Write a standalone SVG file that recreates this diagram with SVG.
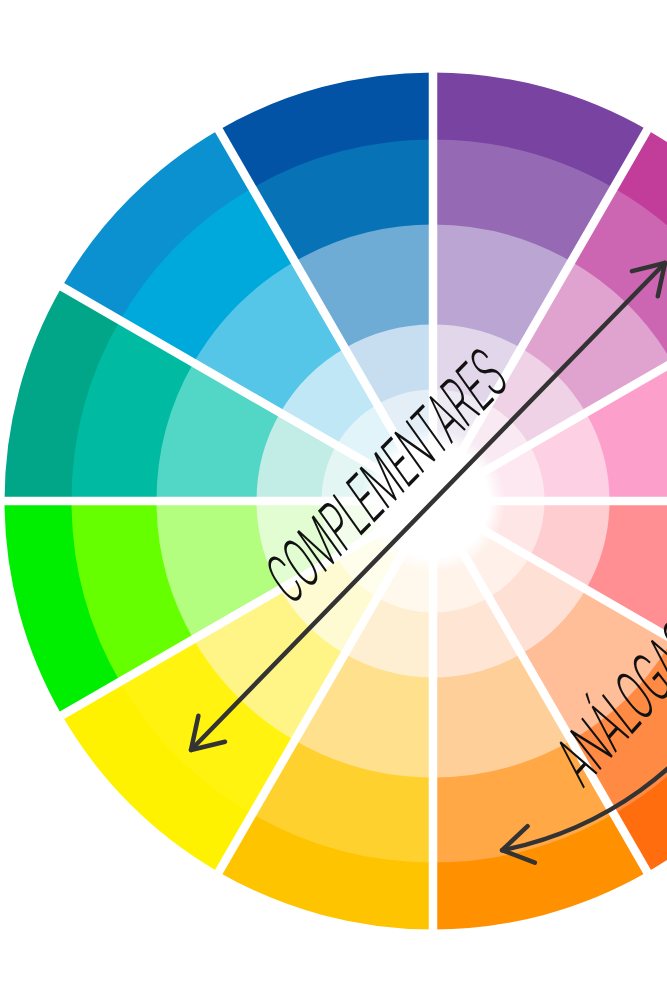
<svg xmlns="http://www.w3.org/2000/svg" width="667" height="1000" viewBox="0 0 667 1000">
<defs>
<style>
.s{fill:none;stroke-dasharray:30 330}
.a{stroke-width:68}.b{stroke-width:86}.c{stroke-width:101}.d{stroke-width:66}.e{stroke-width:112}
.sep{stroke:#fff;stroke-width:8.5;fill:none}
.arr{stroke:#333;stroke-width:4.5;fill:none;stroke-linecap:round;stroke-linejoin:round}
.lbl{font-family:Roboto,"Liberation Sans",sans-serif;font-weight:300;font-size:68px;fill:#111}
</style>
<radialGradient id="glow">
<stop offset="0.78" stop-color="#fff"/>
<stop offset="1" stop-color="#fff" stop-opacity="0"/>
</radialGradient>
</defs>
<rect width="667" height="1000" fill="#fff"/>
<g id="wheel">
<g id="seg-pink" transform="rotate(-30 433 501)">
<circle class="s a" cx="433" cy="501" r="394.5" pathLength="360" stroke="#ec5fa6"/>
<circle class="s b" cx="433" cy="501" r="318.5" pathLength="360" stroke="#f57fba"/>
<circle class="s c" cx="433" cy="501" r="226" pathLength="360" stroke="#fd9fcb"/>
<circle class="s d" cx="433" cy="501" r="143.5" pathLength="360" stroke="#fdd0e4"/>
<circle class="s e" cx="433" cy="501" r="55.5" pathLength="360" stroke="#fde8f1"/>
</g>
<g id="seg-magenta" transform="rotate(-60 433 501)">
<circle class="s a" cx="433" cy="501" r="394.5" pathLength="360" stroke="#c13d99"/>
<circle class="s b" cx="433" cy="501" r="318.5" pathLength="360" stroke="#cc66b2"/>
<circle class="s c" cx="433" cy="501" r="226" pathLength="360" stroke="#e0a3cf"/>
<circle class="s d" cx="433" cy="501" r="143.5" pathLength="360" stroke="#f0d2e6"/>
<circle class="s e" cx="433" cy="501" r="55.5" pathLength="360" stroke="#f8e9f2"/>
</g>
<g id="seg-purple" transform="rotate(-90 433 501)">
<circle class="s a" cx="433" cy="501" r="394.5" pathLength="360" stroke="#7843a1"/>
<circle class="s b" cx="433" cy="501" r="318.5" pathLength="360" stroke="#9569b3"/>
<circle class="s c" cx="433" cy="501" r="226" pathLength="360" stroke="#bba5d2"/>
<circle class="s d" cx="433" cy="501" r="143.5" pathLength="360" stroke="#e1d6ea"/>
<circle class="s e" cx="433" cy="501" r="55.5" pathLength="360" stroke="#eeeaf4"/>
</g>
<g id="seg-darkblue" transform="rotate(-120 433 501)">
<circle class="s a" cx="433" cy="501" r="394.5" pathLength="360" stroke="#0253a5"/>
<circle class="s b" cx="433" cy="501" r="318.5" pathLength="360" stroke="#0872b6"/>
<circle class="s c" cx="433" cy="501" r="226" pathLength="360" stroke="#6eacd5"/>
<circle class="s d" cx="433" cy="501" r="143.5" pathLength="360" stroke="#c6def0"/>
<circle class="s e" cx="433" cy="501" r="55.5" pathLength="360" stroke="#e3eef7"/>
</g>
<g id="seg-blue" transform="rotate(-150 433 501)">
<circle class="s a" cx="433" cy="501" r="394.5" pathLength="360" stroke="#0b90d0"/>
<circle class="s b" cx="433" cy="501" r="318.5" pathLength="360" stroke="#00a9dc"/>
<circle class="s c" cx="433" cy="501" r="226" pathLength="360" stroke="#55c5e8"/>
<circle class="s d" cx="433" cy="501" r="143.5" pathLength="360" stroke="#bfe7f6"/>
<circle class="s e" cx="433" cy="501" r="55.5" pathLength="360" stroke="#e1f4fa"/>
</g>
<g id="seg-teal" transform="rotate(-180 433 501)">
<circle class="s a" cx="433" cy="501" r="394.5" pathLength="360" stroke="#01a689"/>
<circle class="s b" cx="433" cy="501" r="318.5" pathLength="360" stroke="#00bba1"/>
<circle class="s c" cx="433" cy="501" r="226" pathLength="360" stroke="#52d6c5"/>
<circle class="s d" cx="433" cy="501" r="143.5" pathLength="360" stroke="#c2ece6"/>
<circle class="s e" cx="433" cy="501" r="55.5" pathLength="360" stroke="#e3f6f3"/>
</g>
<g id="seg-green" transform="rotate(-210 433 501)">
<circle class="s a" cx="433" cy="501" r="394.5" pathLength="360" stroke="#00ee00"/>
<circle class="s b" cx="433" cy="501" r="318.5" pathLength="360" stroke="#66ff00"/>
<circle class="s c" cx="433" cy="501" r="226" pathLength="360" stroke="#b3fd7f"/>
<circle class="s d" cx="433" cy="501" r="143.5" pathLength="360" stroke="#e3fdd2"/>
<circle class="s e" cx="433" cy="501" r="55.5" pathLength="360" stroke="#f2feeb"/>
</g>
<g id="seg-yellow" transform="rotate(-240 433 501)">
<circle class="s a" cx="433" cy="501" r="394.5" pathLength="360" stroke="#fff200"/>
<circle class="s b" cx="433" cy="501" r="318.5" pathLength="360" stroke="#fff30f"/>
<circle class="s c" cx="433" cy="501" r="226" pathLength="360" stroke="#fff586"/>
<circle class="s d" cx="433" cy="501" r="143.5" pathLength="360" stroke="#fefbd2"/>
<circle class="s e" cx="433" cy="501" r="55.5" pathLength="360" stroke="#fffdec"/>
</g>
<g id="seg-yelloworange" transform="rotate(-270 433 501)">
<circle class="s a" cx="433" cy="501" r="394.5" pathLength="360" stroke="#ffc400"/>
<circle class="s b" cx="433" cy="501" r="318.5" pathLength="360" stroke="#ffd12f"/>
<circle class="s c" cx="433" cy="501" r="226" pathLength="360" stroke="#ffe08c"/>
<circle class="s d" cx="433" cy="501" r="143.5" pathLength="360" stroke="#ffefd2"/>
<circle class="s e" cx="433" cy="501" r="55.5" pathLength="360" stroke="#fff8ec"/>
</g>
<g id="seg-orange" transform="rotate(-300 433 501)">
<circle class="s a" cx="433" cy="501" r="394.5" pathLength="360" stroke="#ff9100"/>
<circle class="s b" cx="433" cy="501" r="318.5" pathLength="360" stroke="#ffa845"/>
<circle class="s c" cx="433" cy="501" r="226" pathLength="360" stroke="#ffcf9a"/>
<circle class="s d" cx="433" cy="501" r="143.5" pathLength="360" stroke="#ffe6d4"/>
<circle class="s e" cx="433" cy="501" r="55.5" pathLength="360" stroke="#fff3ea"/>
</g>
<g id="seg-redorange" transform="rotate(-330 433 501)">
<circle class="s a" cx="433" cy="501" r="394.5" pathLength="360" stroke="#ff6d0f"/>
<circle class="s b" cx="433" cy="501" r="318.5" pathLength="360" stroke="#ff8a44"/>
<circle class="s c" cx="433" cy="501" r="226" pathLength="360" stroke="#ffbd98"/>
<circle class="s d" cx="433" cy="501" r="143.5" pathLength="360" stroke="#fee0d5"/>
<circle class="s e" cx="433" cy="501" r="55.5" pathLength="360" stroke="#fff0ea"/>
</g>
<g id="seg-red" transform="rotate(0 433 501)">
<circle class="s a" cx="433" cy="501" r="394.5" pathLength="360" stroke="#ff4f55"/>
<circle class="s b" cx="433" cy="501" r="318.5" pathLength="360" stroke="#ff6e72"/>
<circle class="s c" cx="433" cy="501" r="226" pathLength="360" stroke="#ff8f92"/>
<circle class="s d" cx="433" cy="501" r="143.5" pathLength="360" stroke="#fdcdcf"/>
<circle class="s e" cx="433" cy="501" r="55.5" pathLength="360" stroke="#ffe6e6"/>
</g>
</g>
<g id="separators" class="sep">
<line x1="-10" y1="501" x2="880" y2="501"/>
<line x1="433" y1="60" x2="433" y2="942"/>
<line x1="52" y1="281" x2="814" y2="721"/>
<line x1="213" y1="120" x2="653" y2="882"/>
<line x1="653" y1="120" x2="213" y2="882"/>
<line x1="814" y1="281" x2="52" y2="721"/>
</g>
<circle id="center" cx="433" cy="501" r="72" fill="url(#glow)"/>
<g id="connectors" class="arr">
<line x1="191" y1="750" x2="665" y2="263"/>
<polyline points="198.4,715.8 191,750 225,741.7"/>
<polyline points="632,271.1 665,263 657.8,296.2"/>
<path d="M502.1,850.2 A356,356 0 0 0 741.3,679"/>
<polyline points="527.6,826.2 502.1,850.2 534.8,862.6"/>
</g>
<g id="label-complementares">
<text class="lbl" transform="translate(291,607) rotate(-45.5) skewX(-10)" textLength="312" lengthAdjust="spacingAndGlyphs">COMPLEMENTARES</text>
</g>
<g id="label-analogas">
<text class="lbl" transform="translate(583,789) rotate(-48) skewX(-10)" textLength="180" lengthAdjust="spacingAndGlyphs">ANÁLOGAS</text>
</g>
</svg>
